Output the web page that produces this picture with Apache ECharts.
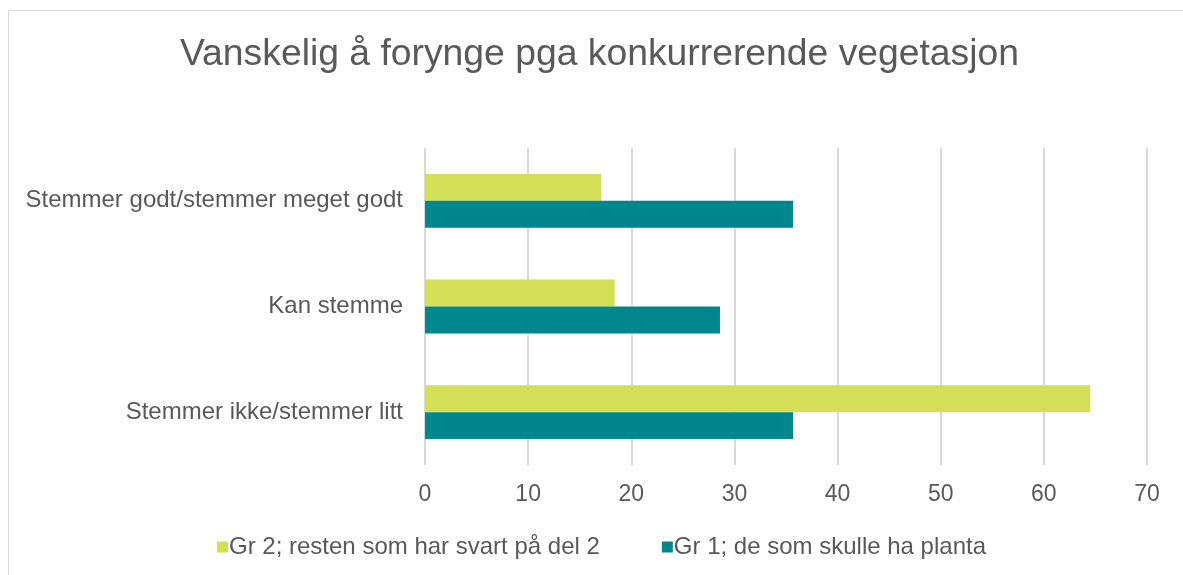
<!DOCTYPE html>
<html>
<head>
<meta charset="utf-8">
<script src="https://cdn.jsdelivr.net/npm/echarts@6/dist/echarts.min.js"></script>
<style>
  html, body { margin: 0; padding: 0; background: #fff; }
  #chart { width: 1183px; height: 575px; }
</style>
</head>
<body>
<div id="chart"></div>
<script>
const categories = ['Stemmer godt/stemmer meget godt', 'Kan stemme', 'Stemmer ikke/stemmer litt']
const gr2Name = 'Gr 2; resten som har svart på del 2'
const gr1Name = 'Gr 1; de som skulle ha planta'
const gr2Values = [17.1, 18.4, 64.5]
const gr1Values = [35.7, 28.6, 35.7]

const chart = echarts.init(document.getElementById('chart'))

const option = {
  animation: false,
  textStyle: { fontFamily: 'Liberation Sans, Arial, sans-serif' },
  title: {
    text: 'Vanskelig å forynge pga konkurrerende vegetasjon',
    left: 175,
    top: 31,
    textStyle: { fontSize: 37.3, fontWeight: 'normal', color: '#595959', fontFamily: 'Liberation Sans, Arial, sans-serif' }
  },
  graphic: [
    {
      type: 'rect',
      shape: { x: 8.5, y: 10.5, width: 1300, height: 700 },
      style: { fill: 'none', stroke: '#d9d9d9', lineWidth: 1 },
      silent: true
    }
  ],
  legend: {
    bottom: 11,
    left: 212,
    itemWidth: 11,
    itemHeight: 11,
    itemGap: 62,
    icon: 'rect',
    textStyle: { fontSize: 24, color: '#595959', padding: [0, 0, 0, -4] },
    data: [gr2Name, gr1Name]
  },
  grid: { left: 425, right: 36, top: 148, bottom: 110 },
  xAxis: {
    type: 'value',
    min: 0,
    max: 70,
    interval: 10,
    axisLine: { show: false },
    axisTick: { show: false },
    axisLabel: { fontSize: 23, color: '#595959', margin: 18 },
    splitLine: { lineStyle: { color: '#d9d9d9', width: 2 } }
  },
  yAxis: {
    type: 'category',
    inverse: true,
    data: categories,
    axisLine: { show: false },
    axisTick: { show: false },
    axisLabel: { fontSize: 24, color: '#595959', margin: 22 }
  },
  series: [
    {
      name: gr2Name,
      type: 'bar',
      data: gr2Values,
      barGap: '0%',
      barCategoryGap: '49%',
      itemStyle: { color: '#d4df57' }
    },
    {
      name: gr1Name,
      type: 'bar',
      data: gr1Values,
      barGap: '0%',
      barCategoryGap: '49%',
      itemStyle: { color: '#00878e' }
    }
  ]
}

chart.setOption(option)
</script>
</body>
</html>
